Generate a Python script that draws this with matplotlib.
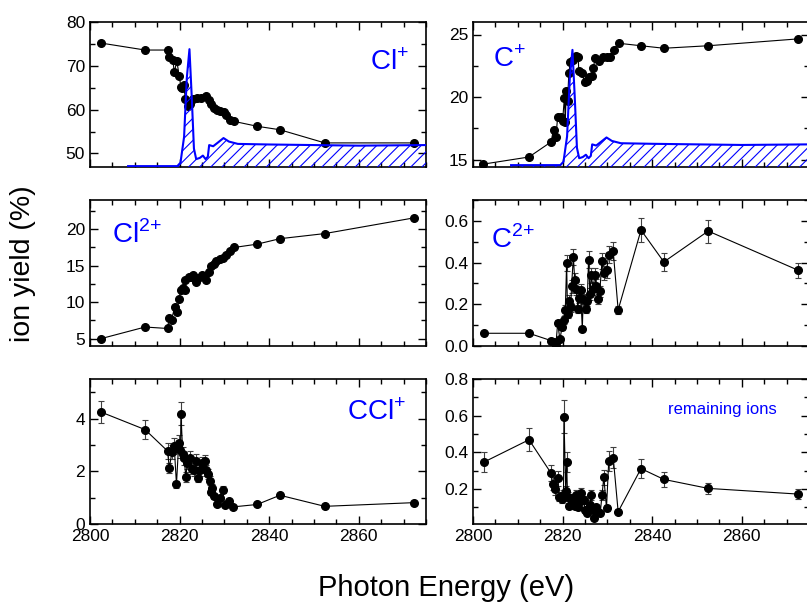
import matplotlib
matplotlib.use('Agg')
import matplotlib.pyplot as plt
from matplotlib.ticker import MultipleLocator

plt.rcParams['font.family'] = ['Liberation Sans', 'DejaVu Sans']
plt.rcParams['mathtext.fontset'] = 'custom'
plt.rcParams['mathtext.rm'] = 'Liberation Sans'
plt.rcParams['hatch.linewidth'] = 0.8

# Cl+ yield (%)
cl1_e = [2802.4, 2812.3, 2817.3, 2817.7, 2818.5, 2818.8, 2819.4, 2819.9, 2820.3, 2820.6,
         2820.9, 2821.3, 2821.8, 2822.4, 2823.1, 2823.9, 2824.8, 2826.0, 2826.5, 2827.0,
         2827.6, 2828.3, 2829.1, 2829.8, 2830.4, 2831.3, 2832.2, 2837.3, 2842.4, 2852.4, 2872.3]
cl1_y = [75.2, 73.6, 73.6, 72.0, 71.3, 68.6, 71.0, 67.7, 65.2, 65.0,
         65.7, 62.4, 60.9, 61.2, 62.4, 62.7, 62.7, 63.0, 62.1, 61.2,
         60.4, 59.8, 59.7, 59.4, 58.8, 57.7, 57.3, 56.2, 55.4, 52.4, 52.4]

# C+ yield (%)
c1_e = [2802.3, 2812.5, 2817.4, 2818.0, 2818.5, 2818.9, 2819.6, 2820.0, 2820.4, 2820.6,
        2820.8, 2821.1, 2821.4, 2821.7, 2822.3, 2823.0, 2823.5, 2823.6, 2824.3, 2824.9,
        2825.4, 2826.0, 2826.5, 2826.8, 2827.3, 2828.1, 2829.0, 2829.9, 2830.6, 2831.4,
        2832.5, 2837.5, 2842.6, 2852.5, 2872.6]
c1_y = [14.63, 15.2, 16.4, 17.4, 16.8, 18.4, 18.4, 18.1, 19.95, 18.0,
        20.45, 19.7, 21.9, 22.8, 23.0, 23.3, 23.2, 22.1, 21.9, 21.2,
        21.3, 21.6, 21.7, 22.3, 23.1, 22.9, 23.2, 23.2, 23.2, 23.8,
        24.3, 24.1, 23.9, 24.1, 24.65]

# Cl2+ yield (%)
cl2_e = [2802.4, 2812.3, 2817.3, 2817.7, 2818.2, 2818.9, 2819.4, 2819.8, 2820.3, 2820.7,
         2821.2, 2821.3, 2822.0, 2822.6, 2823.1, 2823.6, 2824.2, 2825.0, 2825.5, 2826.0,
         2826.5, 2827.1, 2827.6, 2828.2, 2829.0, 2829.7, 2830.4, 2831.3, 2832.2, 2837.3,
         2842.4, 2852.4, 2872.3]
cl2_y = [5.0, 6.6, 6.4, 7.9, 7.6, 9.3, 8.65, 10.4, 11.7, 12.0,
         11.7, 13.0, 13.5, 13.4, 13.7, 12.8, 13.3, 13.7, 13.6, 13.0,
         14.15, 14.9, 15.2, 15.7, 15.9, 16.0, 16.4, 17.0, 17.5, 17.95,
         18.7, 19.4, 21.55]

# C2+ yield (%)
c2_e = [2802.5, 2812.5, 2817.4, 2818.1, 2818.5, 2818.9, 2819.4, 2819.9, 2820.4, 2820.6,
        2820.9, 2821.1, 2821.5, 2821.8, 2822.0, 2822.4, 2822.7, 2823.1, 2823.4, 2823.6,
        2824.0, 2824.4, 2824.6, 2825.2, 2825.5, 2825.8, 2826.1, 2826.4, 2826.8, 2827.2,
        2827.5, 2827.9, 2828.3, 2828.8, 2829.2, 2829.8, 2830.3, 2831.3, 2832.4, 2837.5,
        2842.6, 2852.5, 2872.6]
c2_y = [0.061, 0.061, 0.026, 0.018, 0.006, 0.109, 0.032, 0.093, 0.125, 0.173,
        0.398, 0.154, 0.218, 0.186, 0.286, 0.427, 0.318, 0.275, 0.178, 0.230,
        0.270, 0.082, 0.225, 0.178, 0.218, 0.414, 0.250, 0.339, 0.275, 0.339,
        0.290, 0.226, 0.262, 0.408, 0.350, 0.363, 0.438, 0.454, 0.173, 0.556,
        0.403, 0.551, 0.363]
c2_err = [0.01, 0.01, 0.005, 0.005, 0.003, 0.015, 0.006, 0.015, 0.02, 0.025,
          0.038, 0.022, 0.025, 0.022, 0.03, 0.04, 0.032, 0.03, 0.02, 0.025,
          0.028, 0.012, 0.025, 0.02, 0.025, 0.04, 0.028, 0.035, 0.03, 0.035,
          0.03, 0.025, 0.028, 0.04, 0.035, 0.036, 0.042, 0.044, 0.02, 0.056,
          0.042, 0.055, 0.037]

# CCl+ yield (%)
ccl_e = [2802.4, 2812.3, 2817.3, 2817.7, 2818.3, 2818.8, 2819.3, 2819.8, 2820.2, 2820.3,
         2820.7, 2821.0, 2821.4, 2821.7, 2822.3, 2822.8, 2823.2, 2823.7, 2824.2, 2824.6,
         2825.1, 2825.6, 2825.9, 2826.3, 2826.8, 2827.0, 2827.3, 2827.7, 2828.4, 2829.0,
         2829.6, 2830.1, 2831.1, 2832.0, 2837.3, 2842.4, 2852.4, 2872.3]
ccl_y = [4.25, 3.58, 2.77, 2.13, 2.74, 2.95, 1.50, 3.07, 2.80, 4.19,
         2.67, 2.50, 1.78, 2.30, 2.52, 2.10, 2.03, 2.40, 1.75, 2.03,
         2.30, 2.39, 2.03, 1.90, 1.65, 1.22, 1.38, 1.05, 0.75, 0.97,
         1.30, 0.71, 0.87, 0.65, 0.74, 1.09, 0.67, 0.81]
ccl_err = [0.42, 0.36, 0.30, 0.20, 0.27, 0.30, 0.15, 0.30, 0.28, 0.43,
           0.26, 0.25, 0.18, 0.23, 0.25, 0.21, 0.20, 0.24, 0.17, 0.20,
           0.23, 0.24, 0.20, 0.19, 0.16, 0.12, 0.14, 0.10, 0.07, 0.10,
           0.13, 0.07, 0.09, 0.06, 0.07, 0.10, 0.06, 0.08]

# remaining ions yield (%)
rem_e = [2802.5, 2812.5, 2817.4, 2817.8, 2818.3, 2818.9, 2819.3, 2819.8, 2820.2, 2820.3,
         2820.7, 2820.9, 2821.1, 2821.5, 2822.0, 2822.4, 2822.8, 2823.1, 2823.4, 2823.9,
         2824.2, 2824.7, 2825.1, 2825.5, 2826.1, 2826.4, 2826.8, 2827.1, 2827.5, 2827.9,
         2828.4, 2828.8, 2829.2, 2829.8, 2830.3, 2831.3, 2832.4, 2837.5, 2842.6, 2852.5,
         2872.6]
rem_y = [0.348, 0.469, 0.288, 0.230, 0.200, 0.258, 0.158, 0.145, 0.168, 0.595,
         0.190, 0.348, 0.158, 0.108, 0.120, 0.150, 0.108, 0.168, 0.100, 0.135,
         0.178, 0.140, 0.085, 0.070, 0.112, 0.168, 0.085, 0.040, 0.100, 0.077,
         0.070, 0.168, 0.264, 0.098, 0.353, 0.371, 0.077, 0.312, 0.253, 0.204,
         0.173]
rem_err = [0.054, 0.063, 0.045, 0.035, 0.03, 0.04, 0.024, 0.022, 0.025, 0.09,
           0.029, 0.055, 0.024, 0.016, 0.018, 0.023, 0.016, 0.025, 0.015, 0.02,
           0.027, 0.021, 0.013, 0.011, 0.017, 0.025, 0.013, 0.006, 0.015, 0.012,
           0.011, 0.025, 0.04, 0.015, 0.055, 0.057, 0.012, 0.05, 0.04, 0.032,
           0.027]

# absorption spectrum (normalised, 0 = baseline, 1 = peak)
spec_e = [2808.5, 2819.5, 2820.2, 2821.0, 2821.6, 2822.2, 2822.7, 2823.2, 2823.7, 2824.5,
          2825.2, 2825.8, 2826.3, 2826.6, 2827.5, 2828.5, 2829.8, 2831.0, 2833.0, 2840.0,
          2850.0, 2860.0, 2875.0]
spec_i = [0.0, 0.0, 0.03, 0.25, 0.75, 1.0, 0.6, 0.15, 0.06, 0.07,
          0.09, 0.06, 0.08, 0.18, 0.17, 0.20, 0.24, 0.21, 0.19, 0.185,
          0.18, 0.175, 0.18]

fig = plt.figure(figsize=(8.07, 6.07), dpi=100)

lefts = [90 / 807, 473 / 807]
w = 336 / 807
rows = [(22, 167), (200, 346), (379, 524)]
axes = []
for top, bot in rows:
    row = []
    for l in lefts:
        row.append(fig.add_axes([l, 1 - bot / 607, w, (bot - top) / 607]))
    axes.append(row)

ax_cl1, ax_c1 = axes[0]
ax_cl2, ax_c2 = axes[1]
ax_ccl, ax_rem = axes[2]

line_kw = dict(color='k', lw=0.8, marker='o', ms=5.5, zorder=3)
err_kw = dict(fmt='o-', color='k', lw=0.8, ms=5.5, ecolor='0.25', elinewidth=0.8,
              capsize=2, capthick=0.8, zorder=3)

ax_cl1.plot(cl1_e, cl1_y, **line_kw)
ax_c1.plot(c1_e, c1_y, **line_kw)
ax_cl2.plot(cl2_e, cl2_y, **line_kw)
ax_c2.errorbar(c2_e, c2_y, yerr=c2_err, **err_kw)
ax_ccl.errorbar(ccl_e, ccl_y, yerr=ccl_err, **err_kw)
ax_rem.errorbar(rem_e, rem_y, yerr=rem_err, **err_kw)

# y ranges and ticks
ylims = [[(46.9, 80), (14.4, 26)], [(4, 24), (0, 0.7)], [(0, 5.5), (0.01, 0.8)]]
majors = [[10, 5], [5, 0.2], [2, 0.2]]
for i in range(3):
    for j in range(2):
        ax = axes[i][j]
        ax.set_xlim(2800, 2875)
        ax.set_ylim(*ylims[i][j])
        ax.xaxis.set_major_locator(MultipleLocator(20))
        ax.xaxis.set_minor_locator(MultipleLocator(5))
        ax.yaxis.set_major_locator(MultipleLocator(majors[i][j]))
        ax.yaxis.set_minor_locator(MultipleLocator(majors[i][j] / 2))
        ax.tick_params(which='both', direction='in', top=True, right=True, labelsize=12.5)
        ax.tick_params(which='major', length=6, width=1)
        ax.tick_params(which='minor', length=3.5, width=1)
        for s in ax.spines.values():
            s.set_linewidth(1.2)
        if i < 2:
            ax.tick_params(labelbottom=False)

# spectrum overlay in top panels
for ax, base, peak in [(ax_cl1, 47.1, 73.8), (ax_c1, 14.55, 23.77)]:
    sy = [base + v * (peak - base) for v in spec_i]
    ax.fill_between(spec_e, sy, ax.get_ylim()[0], facecolor='none', edgecolor='#0000ff',
                    hatch='///', lw=0, zorder=4)
    ax.plot(spec_e, sy, color='#0000ff', lw=1.5, zorder=4)

# ion labels
blue = '#0000ff'
ax_cl1.text(0.95, 0.72, 'Cl$^{{+}}$', color=blue, fontsize=20, transform=ax_cl1.transAxes, ha='right', va='center')
ax_c1.text(0.06, 0.74, 'C$^{{+}}$', color=blue, fontsize=20, transform=ax_c1.transAxes, ha='left', va='center')
ax_cl2.text(0.065, 0.76, 'Cl$^{2{+}}$', color=blue, fontsize=20, transform=ax_cl2.transAxes, ha='left', va='center')
ax_c2.text(0.055, 0.73, 'C$^{2{+}}$', color=blue, fontsize=20, transform=ax_c2.transAxes, ha='left', va='center')
ax_ccl.text(0.94, 0.77, 'CCl$^{{+}}$', color=blue, fontsize=20, transform=ax_ccl.transAxes, ha='right', va='center')
ax_rem.text(0.905, 0.79, 'remaining ions', color=blue, fontsize=12, transform=ax_rem.transAxes, ha='right', va='center')

fig.text(23 / 807, 1 - 264 / 607, 'ion yield (%)', rotation=90, fontsize=20.5, ha='center', va='center')
fig.text(446 / 807, 1 - 588 / 607, 'Photon Energy (eV)', fontsize=21, ha='center', va='center')

fig.savefig('out.png', dpi=100)
